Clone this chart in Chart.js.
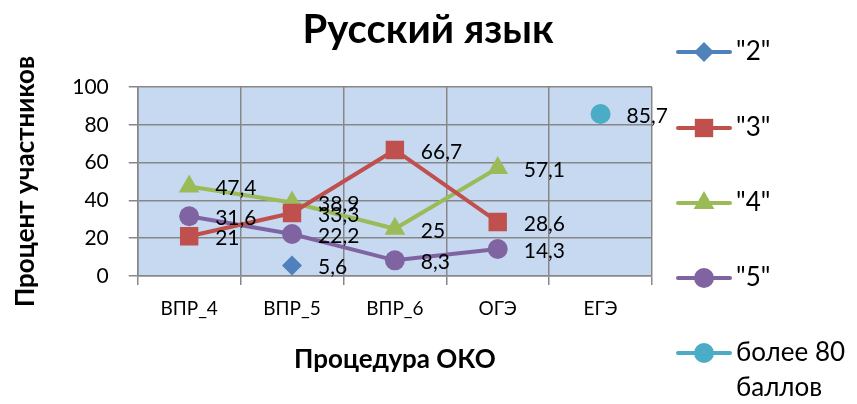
<!DOCTYPE html>
<html>
<head>
<meta charset="utf-8">
<script src="https://cdn.jsdelivr.net/npm/chart.js@4"></script>
<style>
  body { margin: 0; background: #fff; }
  #wrap { width: 857px; height: 404px; }
</style>
</head>
<body>
<div id="wrap"><canvas id="myChart" width="857" height="404"></canvas></div>
<script>
// Data
var categories = ['ВПР_4', 'ВПР_5', 'ВПР_6', 'ОГЭ', 'ЕГЭ'];
var yTicks = [0, 20, 40, 60, 80, 100];
var seriesNames = ['"2"', '"3"', '"4"', '"5"', 'более 80 баллов'];
var grade2 = [null, 5.6, null, null, null];
var grade3 = [21, 33.3, 66.7, 28.6, null];
var grade4 = [47.4, 38.9, 25, 57.1, null];
var grade5 = [31.6, 22.2, 8.3, 14.3, null];
var over80 = [null, null, null, null, 85.7];

var FONT = 'Lato, "Noto Sans", sans-serif';
var colors = ['#4f81bd', '#c0504d', '#9bbb59', '#8064a2', '#4bacc6'];
var markers = ['rectRot', 'rect', 'triangle', 'circle', 'circle'];
var radii = [10, 13, 12, 10, 10];

function makeSet(i, values) {
    return {
        label: seriesNames[i],
        data: values,
        borderColor: colors[i],
        backgroundColor: colors[i],
        borderWidth: 4,
        pointStyle: markers[i],
        pointRadius: radii[i],
        pointBorderWidth: 0,
        pointBackgroundColor: colors[i],
        tension: 0,
        spanGaps: false
    };
}

// light blue plot area + title
var plotBg = {
    id: 'plotBg',
    beforeDraw: function(chart) {
        var a = chart.chartArea, c = chart.ctx;
        c.save();
        c.fillStyle = '#c6d9f1';
        c.fillRect(a.left, a.top, a.right - a.left, a.bottom - a.top);
        c.fillStyle = '#000';
        c.font = 'bold 40px ' + FONT;
        c.textAlign = 'center';
        c.textBaseline = 'middle';
        c.fillText('Русский язык', 428, 30);
        c.restore();
    }
};

// value labels to the right of each point
var valueLabels = {
    id: 'valueLabels',
    afterDatasetsDraw: function(chart) {
        var c = chart.ctx;
        c.save();
        c.font = '21px ' + FONT;
        c.fillStyle = '#000';
        c.textBaseline = 'middle';
        c.textAlign = 'left';
        chart.data.datasets.forEach(function(ds, di) {
            var meta = chart.getDatasetMeta(di);
            meta.data.forEach(function(pt, j) {
                var v = ds.data[j];
                if (v === null || v === undefined) return;
                c.fillText(String(v).replace('.', ','), pt.x + 26, pt.y + 2);
            });
        });
        c.restore();
    }
};

// legend on the right, spread over the full height
var sideLegend = {
    id: 'sideLegend',
    afterDraw: function(chart) {
        var c = chart.ctx;
        var ys = [52, 128, 203, 278, 353];
        c.save();
        c.font = '26px ' + FONT;
        c.textBaseline = 'middle';
        c.textAlign = 'left';
        chart.data.datasets.forEach(function(ds, i) {
            var y = ys[i];
            c.strokeStyle = ds.borderColor;
            c.lineWidth = 4;
            c.lineCap = 'round';
            c.beginPath();
            c.moveTo(678, y);
            c.lineTo(730, y);
            c.stroke();
            c.fillStyle = ds.borderColor;
            Chart.helpers.drawPoint(c, { pointStyle: ds.pointStyle, radius: ds.pointRadius, borderWidth: 0 }, 704, y);
            c.fillStyle = '#000';
            if (i === 4) {
                c.fillText('более 80', 736, y);
                c.fillText('баллов', 736, y + 35);
            } else {
                c.fillText(ds.label, 736, y);
            }
        });
        c.restore();
    }
};

var ctx = document.getElementById('myChart').getContext('2d');
var myChart = new Chart(ctx, {
    type: 'line',
    data: {
        labels: categories,
        datasets: [
            makeSet(0, grade2),
            makeSet(1, grade3),
            makeSet(2, grade4),
            makeSet(3, grade5),
            makeSet(4, over80)
        ]
    },
    options: {
        responsive: false,
        animation: false,
        layout: { padding: { left: 10, right: 205, top: 87, bottom: 29 } },
        plugins: {
            legend: { display: false },
            tooltip: { enabled: false },
            title: { display: false }
        },
        scales: {
            x: {
                offset: true,
                grid: { offset: true, color: '#878787', lineWidth: 1.5, tickLength: 9, drawOnChartArea: true },
                border: { color: '#878787', width: 1.5 },
                ticks: { color: '#000', font: { family: FONT, size: 19 }, padding: 12, maxRotation: 0 },
                title: {
                    display: true,
                    text: 'Процедура ОКО',
                    color: '#000',
                    font: { family: FONT, size: 26, weight: 'bold' },
                    padding: { top: 12, bottom: 0 }
                }
            },
            y: {
                min: 0,
                max: 100,
                afterBuildTicks: function(scale) {
                    scale.ticks = yTicks.map(function(v) { return { value: v }; });
                },
                grid: { color: '#878787', lineWidth: 1.5, tickLength: 9 },
                border: { color: '#878787', width: 1.5 },
                ticks: { color: '#000', font: { family: FONT, size: 21 }, padding: 20 },
                title: {
                    display: true,
                    text: 'Процент участников',
                    color: '#000',
                    font: { family: FONT, size: 26, weight: 'bold' },
                    padding: { top: 0, bottom: 11 }
                }
            }
        }
    },
    plugins: [plotBg, valueLabels, sideLegend]
});
</script>
</body>
</html>
